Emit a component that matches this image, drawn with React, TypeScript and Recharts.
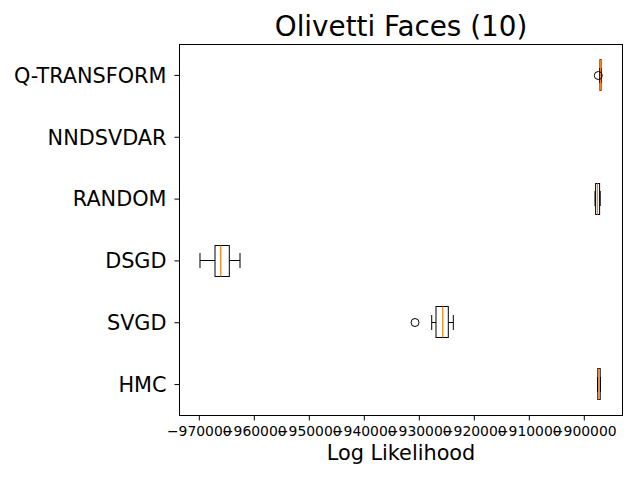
import React from "react";
import { ComposedChart, Bar, XAxis, YAxis } from "recharts";

const categories = ["Q-TRANSFORM", "NNDSVDAR", "RANDOM", "DSGD", "SVGD", "HMC"];

// box stats per method (NNDSVDAR has no finite values)
const lowWhisker = [-897182, null, -898054, -969873, -927745, -897599];
const q1 = [-897145, null, -897945, -967145, -926964, -897545];
const median = [-897036, null, -897599, -966109, -925745, -897327];
const q3 = [-896964, null, -897218, -964545, -924727, -897109];
const highWhisker = [-896909, null, -897109, -962600, -923818, -897054];
const outliers = [[-897454], [], [], [], [-930782], []];

const xTicks = [-970000, -960000, -950000, -940000, -930000, -920000, -910000, -900000];

const FONT = "DejaVu Sans, sans-serif";
const MEDIAN_COLOR = "#ff7f0e";

const data = categories.map((name, i) => ({
  name,
  range: lowWhisker[i] == null ? null : [lowWhisker[i], highWhisker[i]],
  low: lowWhisker[i],
  q1: q1[i],
  median: median[i],
  q3: q3[i],
  high: highWhisker[i],
  outliers: outliers[i],
}));

const fmt = (v: number) => (v < 0 ? "\u2212" + Math.abs(v) : String(v));
const snap = (v: number) => Math.round(v - 0.5) + 0.5;

// draws one horizontal box from the bar's pixel span (low..high whiskers)
const BoxShape = (props: any) => {
  const { x, y, width, height, payload } = props;
  if (!payload || payload.low == null || x == null) return null;
  const span = payload.high - payload.low;
  const px = (v: number) => x + ((v - payload.low) / span) * width;
  const cy = snap(y + height / 2);
  const top = snap(y);
  const bottom = snap(y + height);
  const capH = 7.5;
  const bx1 = px(payload.q1);
  const bx2 = px(payload.q3);
  const m = px(payload.median);
  const lo = px(payload.low);
  const hi = px(payload.high);
  return (
    <g>
      <line x1={lo} y1={cy} x2={bx1} y2={cy} stroke="#000" strokeWidth={1} />
      <line x1={bx2} y1={cy} x2={hi} y2={cy} stroke="#000" strokeWidth={1} />
      <line x1={lo} y1={cy - capH} x2={lo} y2={cy + capH} stroke="#000" strokeWidth={1} />
      <line x1={hi} y1={cy - capH} x2={hi} y2={cy + capH} stroke="#000" strokeWidth={1} />
      <rect x={bx1} y={top} width={bx2 - bx1} height={bottom - top} fill="none" stroke="#000" strokeWidth={1} />
      <line x1={m} y1={top} x2={m} y2={bottom} stroke={MEDIAN_COLOR} strokeWidth={1.2} />
      {payload.outliers.map((o: number, k: number) => (
        <circle key={k} cx={px(o)} cy={cy} r={4} fill="none" stroke="#000" strokeWidth={1} />
      ))}
    </g>
  );
};

export default function App() {
  return (
    <div style={{ position: "absolute", left: 0, top: 0, width: 640, height: 480, background: "#fff" }}>
      <ComposedChart
        width={640}
        height={480}
        data={data}
        layout="vertical"
        margin={{ top: 44.5, right: 17.5, bottom: 0, left: 0 }}
      >
        <XAxis
          type="number"
          domain={[-973600, -893055]}
          ticks={xTicks}
          tickFormatter={fmt}
          height={64.5}
          axisLine={false}
          tickSize={5}
          tickMargin={6}
          tickLine={{ stroke: "#000" }}
          tick={{ fill: "#000", fontSize: 13.9, fontFamily: FONT }}
        />
        <YAxis
          type="category"
          dataKey="name"
          width={179.5}
          axisLine={false}
          tickSize={5}
          tickMargin={8}
          tickLine={{ stroke: "#000" }}
          tick={{ fill: "#000", fontSize: 20.8, fontFamily: FONT }}
        />
        <Bar dataKey="range" barSize={31} shape={BoxShape} isAnimationActive={false} />
      </ComposedChart>
      <svg width={640} height={480} style={{ position: "absolute", left: 0, top: 0, pointerEvents: "none" }}>
        <rect x={179.5} y={44.5} width={443} height={371} fill="none" stroke="#000" strokeWidth={1} />
        <text x={401} y={35.5} textAnchor="middle" fontFamily={FONT} fontSize={27.8} fill="#000">
          Olivetti Faces (10)
        </text>
        <text x={401} y={459.5} textAnchor="middle" fontFamily={FONT} fontSize={20.8} fill="#000">
          Log Likelihood
        </text>
      </svg>
    </div>
  );
}
